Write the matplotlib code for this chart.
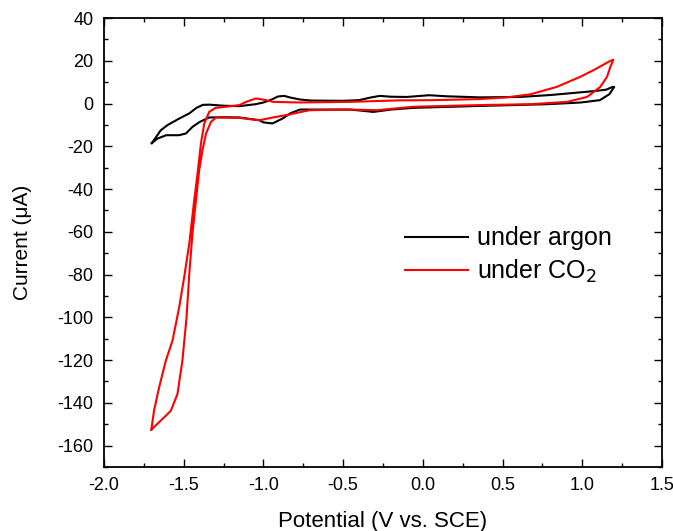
import numpy as np
import matplotlib
matplotlib.use("Agg")
import matplotlib.pyplot as plt

# cyclic voltammograms (V vs. SCE, uA)
argon_fwd_x = [-1.70, -1.665, -1.644, -1.60, -1.528, -1.465, -1.42, -1.38, -1.34, -1.25,
               -1.15, -1.05, -1.00, -0.95, -0.91, -0.87, -0.83, -0.77, -0.70, -0.50,
               -0.40, -0.33, -0.27, -0.20, -0.10, 0.04, 0.15, 0.36, 0.61, 0.80,
               0.95, 1.07, 1.15, 1.19]
argon_fwd_y = [-18.5, -14.8, -12.5, -10.0, -7.0, -4.6, -2.0, -0.6, -0.5, -1.0,
               -1.2, -0.3, 0.5, 1.8, 3.3, 3.6, 2.8, 1.9, 1.4, 1.3,
               1.6, 2.8, 3.6, 3.2, 3.1, 3.9, 3.4, 2.9, 3.1, 4.0,
               5.0, 5.8, 6.5, 7.8]
argon_rev_x = [1.20, 1.17, 1.11, 0.99, 0.78, 0.36, -0.06, -0.20, -0.31, -0.40,
               -0.46, -0.60, -0.77, -0.83, -0.88, -0.943, -1.00, -1.025, -1.15, -1.25,
               -1.34, -1.40, -1.445, -1.486, -1.53, -1.61, -1.665, -1.70]
argon_rev_y = [7.8, 4.4, 1.6, 0.5, -0.3, -1.1, -2.0, -2.8, -3.9, -3.2,
               -2.8, -2.8, -2.8, -4.5, -7.0, -9.3, -8.8, -7.8, -6.5, -6.4,
               -6.5, -8.6, -10.9, -14.0, -14.8, -14.8, -16.4, -18.5]

co2_fwd_x = [-1.703, -1.686, -1.654, -1.612, -1.57, -1.528, -1.497, -1.465, -1.434, -1.413,
             -1.392, -1.371, -1.34, -1.30, -1.235, -1.15, -1.109, -1.046, -0.983, -0.94,
             -0.774, -0.46, -0.145, 0.06, 0.358, 0.526, 0.673, 0.84, 0.987, 1.08,
             1.176, 1.195]
co2_fwd_y = [-152.5, -143.6, -132.7, -120.2, -110.8, -95.2, -81.2, -65.5, -45.2, -32.7,
             -18.7, -9.3, -3.9, -2.0, -1.5, -0.7, 0.8, 2.4, 1.6, 0.8,
             0.5, 0.8, 1.5, 1.6, 2.1, 2.9, 4.3, 7.8, 12.5, 16.0,
             20.0, 20.5]
co2_rev_x = [1.195, 1.176, 1.155, 1.113, 1.03, 0.905, 0.673, 0.358, -0.061, -0.29,
             -0.46, -0.71, -0.857, -0.94, -1.025, -1.15, -1.297, -1.329, -1.36, -1.382,
             -1.403, -1.423, -1.445, -1.465, -1.482, -1.508, -1.539, -1.58, -1.612, -1.703]
co2_rev_y = [20.5, 17.2, 12.5, 7.8, 3.1, 0.8, -0.3, -0.7, -1.5, -3.1,
             -2.8, -3.1, -5.4, -6.5, -7.8, -6.7, -6.5, -8.6, -14.0, -21.8,
             -31.2, -45.2, -60.8, -79.6, -99.9, -120.2, -135.8, -143.6, -146.0, -152.5]

plt.rcParams["font.family"] = ["Liberation Sans", "DejaVu Sans"]
plt.rcParams["axes.unicode_minus"] = False

fig = plt.figure(figsize=(6.73, 5.31), dpi=100)
ax = fig.add_axes([0.1545, 0.1205, 0.8292, 0.8455])

ax.plot(argon_fwd_x + argon_rev_x, argon_fwd_y + argon_rev_y, color="black", lw=1.5, label="under argon")
ax.plot(co2_fwd_x + co2_rev_x, co2_fwd_y + co2_rev_y, color="red", lw=1.5, label="under CO$_2$")

ax.set_xlim(-2.0, 1.5)
ax.set_ylim(-170, 40)
ax.set_xticks(np.arange(-2.0, 1.51, 0.5))
ax.set_xticks(np.arange(-2.0, 1.51, 0.25), minor=True)
ax.set_yticks(np.arange(-160, 41, 20))
ax.set_yticks(np.arange(-170, 41, 10), minor=True)
ax.xaxis.set_major_formatter(matplotlib.ticker.FormatStrFormatter("%.1f"))
ax.tick_params(which="both", direction="in", top=True, right=True, labelsize=13, width=1.0, pad=7.5)
ax.tick_params(which="major", length=6)
ax.tick_params(which="minor", length=3)
for s in ax.spines.values():
    s.set_linewidth(1.3)

ax.set_xlabel("Potential (V vs. SCE)", fontsize=16, labelpad=12)
ax.set_ylabel("Current (\u03bcA)", fontsize=15, labelpad=18)

ax.legend(loc="upper left", bbox_to_anchor=(0.54, 0.536), frameon=False, fontsize=18,
          handlelength=2.5, handletextpad=0.36, labelspacing=0.3, borderpad=0, borderaxespad=0)

fig.savefig("out.png", dpi=100)
